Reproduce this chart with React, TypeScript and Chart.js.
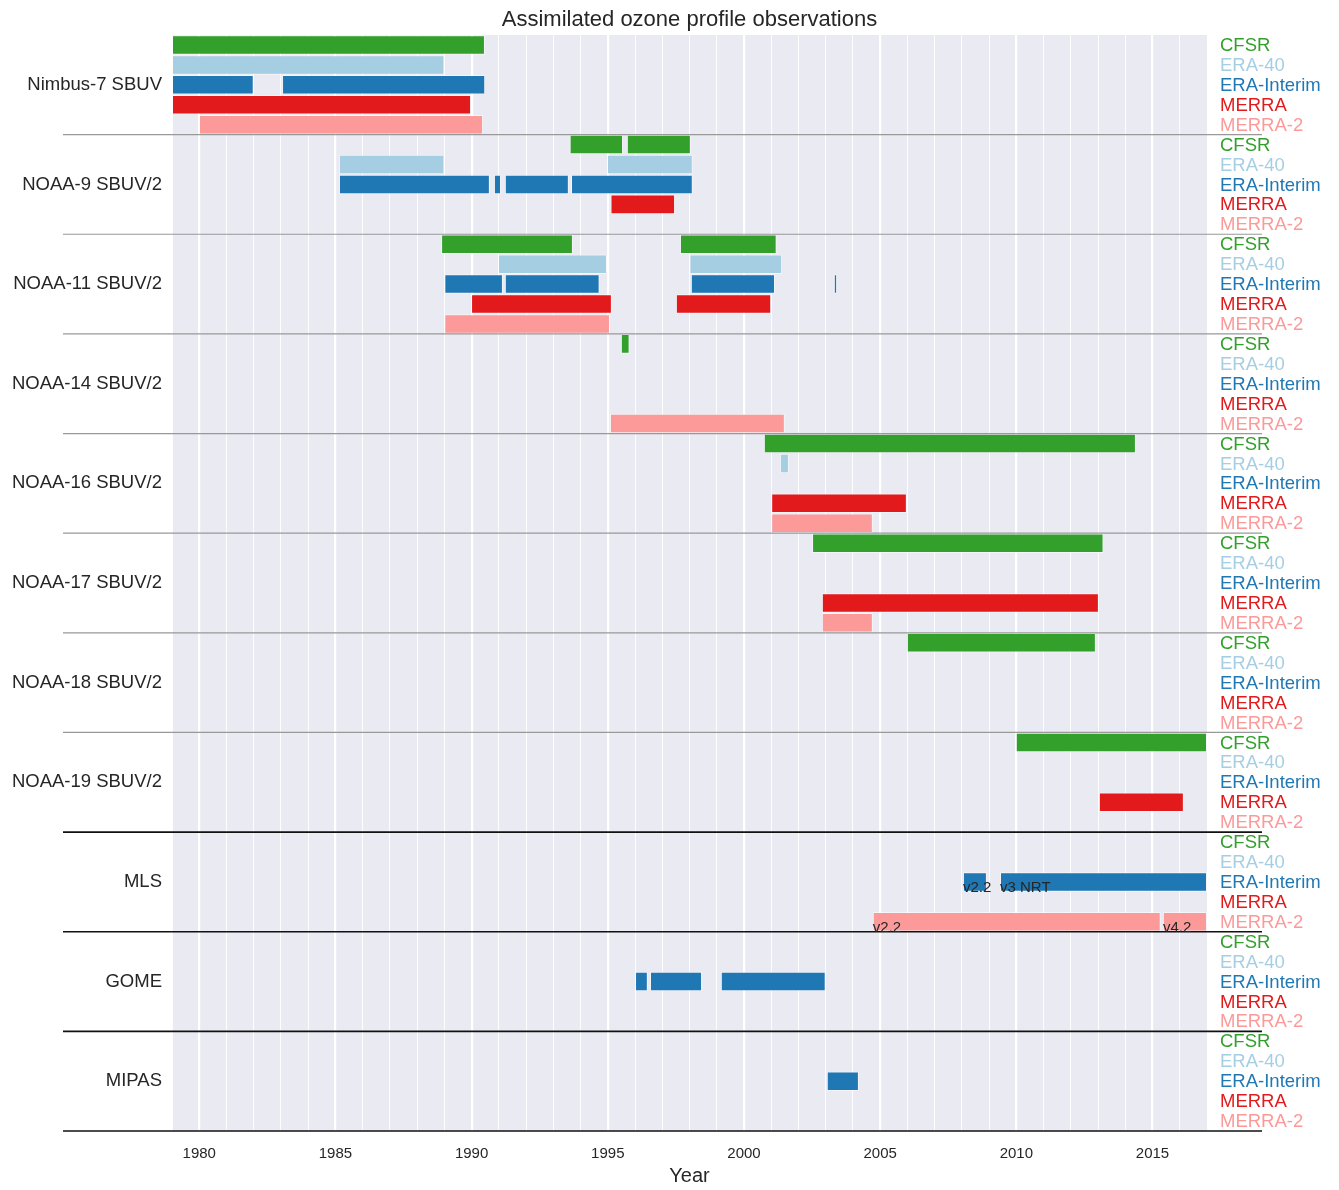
import { useEffect, useRef } from "react";
import { Chart, registerables } from "chart.js";

Chart.register(...registerables);

const groups = [
  "Nimbus-7 SBUV",
  "NOAA-9 SBUV/2",
  "NOAA-11 SBUV/2",
  "NOAA-14 SBUV/2",
  "NOAA-16 SBUV/2",
  "NOAA-17 SBUV/2",
  "NOAA-18 SBUV/2",
  "NOAA-19 SBUV/2",
  "MLS",
  "GOME",
  "MIPAS",
];
const reanalyses = ["CFSR", "ERA-40", "ERA-Interim", "MERRA", "MERRA-2"];
const colors = ["#33a02c", "#a6cee3", "#1f78b4", "#e31a1c", "#fb9a99"];

// [group, start year, end year]
const cfsrBars = [
  [0, 1979, 1990.49], [1, 1993.6, 1995.56], [1, 1995.7, 1998.05],
  [2, 1988.88, 1993.72], [2, 1997.65, 2001.2], [3, 1995.48, 1995.8],
  [4, 2000.73, 2014.39], [5, 2002.5, 2013.2], [6, 2005.98, 2012.92],
  [7, 2009.98, 2017],
];
const era40Bars = [
  [0, 1979, 1989.0], [1, 1985.13, 1989.0], [1, 1994.97, 1998.12],
  [2, 1990.97, 1994.97], [2, 1998.0, 2001.4], [4, 2001.32, 2001.65],
];
const eraIntBars = [
  [0, 1979, 1982.0], [0, 1983.04, 1990.5],
  [1, 1985.13, 1990.67], [1, 1990.82, 1991.08], [1, 1991.22, 1993.57], [1, 1993.65, 1998.12],
  [2, 1989.0, 1991.15], [2, 1991.22, 1994.7], [2, 1998.05, 2001.14], [2, 2003.3, 2003.42],
  [8, 2008.04, 2008.92], [8, 2009.4, 2017],
  [9, 1996.0, 1996.47], [9, 1996.55, 1998.46], [9, 1999.15, 2003.0],
  [10, 2003.04, 2004.22],
];
const merraBars = [
  [0, 1979, 1989.98], [1, 1995.1, 1997.47], [2, 1989.98, 1995.15], [2, 1997.5, 2001.0],
  [4, 2001.0, 2005.98], [5, 2002.86, 2013.03], [7, 2013.03, 2016.15],
];
const merra2Bars = [
  [0, 1979.99, 1990.42], [2, 1989.0, 1995.08], [3, 1995.08, 2001.5],
  [4, 2001.0, 2004.73], [5, 2002.86, 2004.73], [8, 2004.73, 2015.3], [8, 2015.38, 2017],
];
// [group, reanalysis, year, text]
const barTexts: [number, number, number, string][] = [
  [8, 2, 2008.04, "v2.2"],
  [8, 2, 2009.4, "v3 NRT"],
  [8, 4, 2004.73, "v2.2"],
  [8, 4, 2015.38, "v4.2"],
];

const FONT = "'Liberation Sans', Arial, sans-serif";

export default function App() {
  const canvasRef = useRef<HTMLCanvasElement>(null);

  useEffect(() => {
    document.body.style.margin = "0";
    if (!canvasRef.current) return;
    const rowLabels: string[] = [];
    groups.forEach((g, gi) => reanalyses.forEach((r, ri) => rowLabels.push(`${gi}-${ri}`)));
    const all = [cfsrBars, era40Bars, eraIntBars, merraBars, merra2Bars];
    const data: any[] = [];
    const bg: string[] = [];
    all.forEach((list, ri) =>
      list.forEach(([g, s, e]) => {
        data.push({ x: [s, e], y: `${g}-${ri}` });
        bg.push(colors[ri]);
      })
    );

    const decor = {
      id: "decor",
      beforeDraw(chart: any) {
        const { ctx, chartArea: a } = chart;
        ctx.save();
        ctx.fillStyle = "#EAEAF2";
        ctx.fillRect(a.left, a.top, a.right - a.left, a.bottom - a.top);
        ctx.restore();
      },
      afterDatasetsDraw(chart: any) {
        const { ctx, chartArea: a, scales } = chart;
        const y = scales.y;
        const x = scales.x;
        const rowH = (a.bottom - a.top) / rowLabels.length;
        ctx.save();
        ctx.fillStyle = "#262626";
        ctx.font = `22px ${FONT}`;
        ctx.textAlign = "center";
        ctx.textBaseline = "middle";
        ctx.fillText("Assimilated ozone profile observations", (a.left + a.right) / 2, 20);
        groups.forEach((g, gi) => {
          const top = a.top + gi * 5 * rowH;
          ctx.font = `18.5px ${FONT}`;
          ctx.fillStyle = "#262626";
          ctx.textAlign = "right";
          ctx.fillText(g, 162, top + 2.5 * rowH);
          ctx.textAlign = "left";
          reanalyses.forEach((r, ri) => {
            ctx.fillStyle = colors[ri];
            ctx.fillText(r, 1220, y.getPixelForValue(`${gi}-${ri}`) + 1);
          });
          const bottom = top + 5 * rowH;
          ctx.beginPath();
          ctx.strokeStyle = gi < 7 ? "#999999" : "#111111";
          ctx.lineWidth = gi < 7 ? 1.2 : 1.6;
          ctx.moveTo(63, bottom);
          ctx.lineTo(1262, bottom);
          ctx.stroke();
        });
        ctx.fillStyle = "#262626";
        ctx.font = `15px ${FONT}`;
        ctx.textAlign = "left";
        ctx.textBaseline = "alphabetic";
        barTexts.forEach(([g, ri, yr, t]) => {
          ctx.fillText(t, x.getPixelForValue(yr), y.getPixelForValue(`${g}-${ri}`) + rowH / 2);
        });
        ctx.restore();
      },
    };

    const chart = new Chart(canvasRef.current, {
      type: "bar",
      data: {
        labels: rowLabels,
        datasets: [
          {
            data,
            backgroundColor: bg,
            borderColor: "rgba(255,255,255,0.5)",
            borderWidth: 1,
            borderSkipped: false,
            categoryPercentage: 1,
            barPercentage: 0.98,
          },
        ],
      },
      options: {
        indexAxis: "y",
        animation: false,
        responsive: false,
        layout: { padding: { left: 172, right: 132, top: 35, bottom: 0 } },
        plugins: { legend: { display: false }, tooltip: { enabled: false } },
        scales: {
          y: { type: "category", display: false },
          x: {
            type: "linear",
            min: 1979,
            max: 2017,
            afterFit: (s: any) => {
              s.height = 59;
            },
            ticks: {
              stepSize: 1,
              autoSkip: false,
              maxRotation: 0,
              padding: 14,
              color: "#262626",
              font: { size: 15, family: FONT },
              callback: (v: any) => (Number(v) % 5 === 0 ? String(v) : ""),
            },
            grid: {
              color: "#ffffff",
              lineWidth: (c: any) => (c.tick && c.tick.value % 5 === 0 ? 2.2 : 0.9),
              drawTicks: false,
            },
            border: { display: false },
            title: { display: true, text: "Year", color: "#262626", font: { size: 20, family: FONT }, padding: 2 },
          },
        },
      },
      plugins: [decor],
    });
    return () => chart.destroy();
  }, []);

  return <canvas ref={canvasRef} width={1339} height={1190} style={{ display: "block" }} />;
}
